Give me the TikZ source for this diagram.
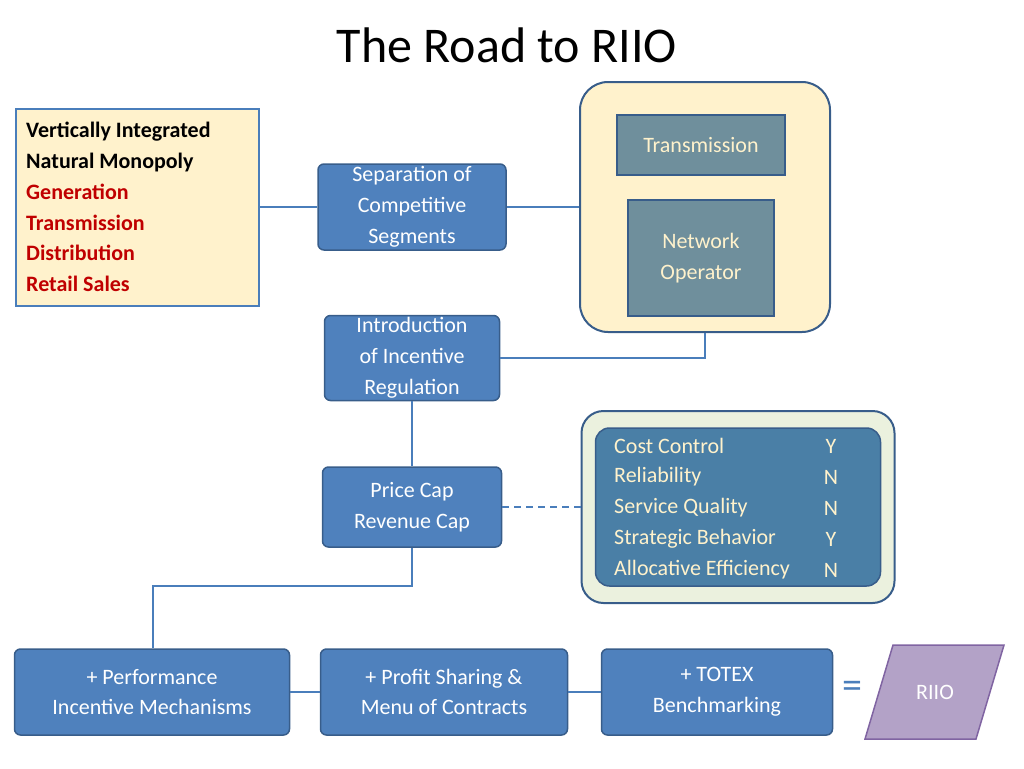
\documentclass[tikz,border=0pt]{standalone}
\usepackage{fontspec}
\setmainfont{Carlito}
\begin{document}
\begin{tikzpicture}[x=1pt,y=-1pt,
 bl/.style={draw=bdr,line width=1.5pt,fill=blu,rounded corners=6pt,text=white,align=center,font=\fontsize{22}{30.8}\selectfont,inner sep=1pt},
 ln/.style={draw=lnc,line width=2pt},
 gr/.style={draw=bdr,line width=1.5pt,fill=gry,text=txy,align=center,font=\fontsize{22}{30.8}\selectfont}]
\definecolor{blu}{HTML}{4F81BD}\definecolor{bdr}{HTML}{385D8A}\definecolor{lnc}{HTML}{4A7EBB}
\definecolor{cre}{HTML}{FFF2CC}\definecolor{gry}{HTML}{6F8F9C}\definecolor{txy}{HTML}{FFF2CC}
\definecolor{grn}{HTML}{EBF1DE}\definecolor{red}{HTML}{C00000}\definecolor{pur}{HTML}{B3A2C7}\definecolor{pbd}{HTML}{8064A2}
\definecolor{inner}{HTML}{4A7FA6}
\useasboundingbox (0,0) rectangle (1024,768);
\node (title) at (507,45) {\fontsize{50}{56}\selectfont The Road to RIIO};
\node[draw=lnc,line width=2pt,fill=cre,minimum width=243pt,minimum height=197pt,anchor=north west] (vi) at (15,108) {};
\node[anchor=west,align=left,font=\fontsize{22}{30.8}\selectfont\bfseries,inner sep=0pt] (vit) at (26,207)
 {Vertically Integrated\\Natural Monopoly\\\textcolor{red}{Generation}\\\textcolor{red}{Transmission}\\\textcolor{red}{Distribution}\\\textcolor{red}{Retail Sales}};
\node[bl,minimum width=188pt,minimum height=86pt] (sep) at (412,207) {Separation of\\Competitive\\Segments};
\node[draw=bdr,line width=2pt,fill=cre,rounded corners=28pt,minimum width=250pt,minimum height=250pt] (big) at (705,207) {};
\node[gr,minimum width=168pt,minimum height=60pt] (tr) at (701,145) {Transmission};
\node[gr,minimum width=146pt,minimum height=116pt] (no) at (701,258) {Network\\Operator};
\node[bl,minimum width=175pt,minimum height=85pt] (inc) at (412,358) {Introduction\\of Incentive\\Regulation};
\node[bl,minimum width=179pt,minimum height=80pt] (pc) at (412,507) {Price Cap\\Revenue Cap};
\node[draw=bdr,line width=2pt,fill=grn,rounded corners=22pt,minimum width=313pt,minimum height=192pt] (gb) at (738,507) {};
\node[draw=bdr,line width=1.5pt,fill=inner,rounded corners=14pt,minimum width=285pt,minimum height=158pt] (ib) at (738,507) {};
\foreach \t/\v/\y in {Cost Control/Y/446,Reliability/N/477,Service Quality/N/508,Strategic Behavior/Y/539,Allocative Efficiency/N/570}{
 \node[anchor=west,text=txy,font=\fontsize{22}{26}\selectfont,inner sep=0pt] at (614,\y) {\t};
 \node[text=txy,font=\fontsize{22}{26}\selectfont,inner sep=0pt] at (831,\y) {\v};}
\node[bl,minimum width=275pt,minimum height=86pt] (perf) at (152,692) {+ Performance\\Incentive Mechanisms};
\node[bl,minimum width=247pt,minimum height=86pt] (prof) at (444,692) {+ Profit Sharing \&\\Menu of Contracts};
\node[bl,minimum width=231pt,minimum height=86pt] (totex) at (717,692) {+ TOTEX\\Benchmarking};
\node[text=lnc,font=\fontsize{40}{40}\selectfont] (eq) at (852,690) {=};
\draw[draw=pbd,line width=1.5pt,fill=pur] (893,645) -- (1004,645) -- (976,739) -- (865,739) -- cycle;
\node[text=white,font=\fontsize{22}{26}\selectfont] (riio) at (935,692) {RIIO};
\draw[ln] (vi.east |- sep) -- (sep.west);
\draw[ln] (sep.east) -- (big.west |- sep.east);
\draw[ln] (big.south) -- (705,358) -- (inc.east);
\draw[ln] (inc.south) -- (pc.north);
\draw[ln,dashed,dash pattern=on 7pt off 5pt] (pc.east) -- (gb.west);
\draw[ln] (pc.south) -- (412,586) -- (153,586) -- (perf.north -| 153,0);
\draw[ln] (perf.east) -- (prof.west);
\draw[ln] (prof.east) -- (totex.west);
\end{tikzpicture}
\end{document}
